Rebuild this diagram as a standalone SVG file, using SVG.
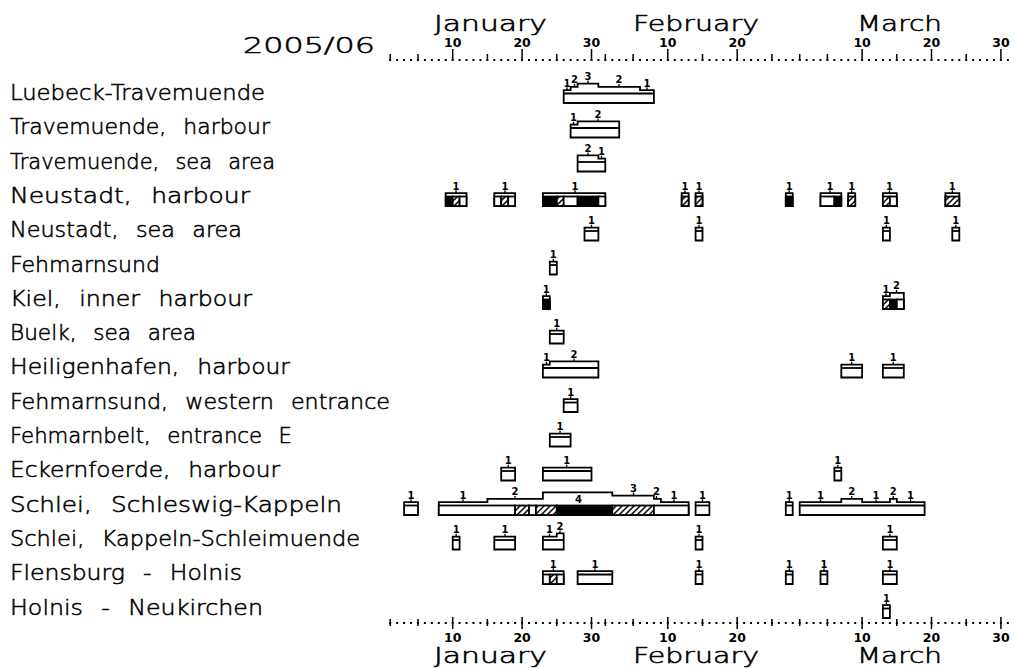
<svg xmlns="http://www.w3.org/2000/svg" width="1015" height="668" viewBox="0 0 1015 668">
<defs>
<pattern id="hp" patternUnits="userSpaceOnUse" width="6" height="6">
<rect width="6" height="6" fill="#fff"/>
<path d="M-1,7 L7,-1 M-1,1 L1,-1 M5,7 L7,5" stroke="#000" stroke-width="1.5"/>
</pattern>
</defs>
<style>
.lb{font-family:"DejaVu Sans",sans-serif;font-size:22px;font-weight:200;word-spacing:10px;fill:#000;stroke:#000;stroke-width:0.55}
.mo{font-family:"DejaVu Sans",sans-serif;font-size:21px;font-weight:200;fill:#000;stroke:#000;stroke-width:0.55}
.ax{font-family:"DejaVu Sans",sans-serif;font-size:12.5px;font-weight:bold;text-anchor:middle;fill:#000}
.n{font-family:"DejaVu Sans",sans-serif;font-size:10px;font-weight:bold;text-anchor:middle;fill:#000}
.o{fill:#fff;stroke:#000;stroke-width:1.8}
.k{fill:#000;stroke:#000;stroke-width:1.8}
.h{fill:url(#hp);stroke:#000;stroke-width:1.8}
.w{fill:#fff;stroke:#000;stroke-width:1.8}
.ln{fill:none;stroke:#000;stroke-width:1.8}
.t{fill:none;stroke:#000;stroke-width:1.3}
.dots{fill:none;stroke:#000;stroke-width:2;stroke-dasharray:2 4.94}
.tk{fill:none;stroke:#000;stroke-width:1.5}
</style>
<rect width="1015" height="668" fill="#fff"/>

<g id="axis-top">
<text class="mo" x="243" y="53" font-size="22" textLength="132" lengthAdjust="spacingAndGlyphs">2005/06</text>
<text class="mo" x="434" y="31" textLength="113" lengthAdjust="spacingAndGlyphs">January</text>
<text class="mo" x="633" y="31" textLength="126" lengthAdjust="spacingAndGlyphs">February</text>
<text class="mo" x="857" y="31" textLength="85" lengthAdjust="spacingAndGlyphs">March</text>
<text class="ax" x="452.7" y="47">10</text><text class="ax" x="522.1" y="47">20</text><text class="ax" x="591.5" y="47">30</text>
<text class="ax" x="667.8" y="47">10</text><text class="ax" x="737.2" y="47">20</text>
<text class="ax" x="862.1" y="47">10</text><text class="ax" x="931.5" y="47">20</text><text class="ax" x="1000.9" y="47">30</text>
<line class="dots" x1="389.2" y1="60" x2="1009" y2="60"/>
<path class="tk" d="M390.2,54V61M418,54V61M487.4,54V61M556.8,54V61M605.3,54V61M633.1,54V61M702.5,54V61M771.9,54V61M799.7,54V61M827.4,54V61M896.8,54V61M966.2,54V61"/>
<path class="tk" d="M452.7,49V61M522.1,49V61M591.5,49V61M667.8,49V61M737.2,49V61M862.1,49V61M931.5,49V61M1000.9,49V61"/>
</g>

<g id="axis-bottom">
<line class="dots" x1="389.2" y1="623" x2="1009" y2="623"/>
<path class="tk" d="M390.2,619V626M418,619V626M487.4,619V626M556.8,619V626M605.3,619V626M633.1,619V626M702.5,619V626M771.9,619V626M799.7,619V626M827.4,619V626M896.8,619V626M966.2,619V626"/>
<path class="tk" d="M452.7,617V629M522.1,617V629M591.5,617V629M667.8,617V629M737.2,617V629M862.1,617V629M931.5,617V629M1000.9,617V629"/>
<text class="ax" x="452.7" y="642">10</text><text class="ax" x="522.1" y="642">20</text><text class="ax" x="591.5" y="642">30</text>
<text class="ax" x="667.8" y="642">10</text><text class="ax" x="737.2" y="642">20</text>
<text class="ax" x="862.1" y="642">10</text><text class="ax" x="931.5" y="642">20</text><text class="ax" x="1000.9" y="642">30</text>
<text class="mo" x="434" y="662.5" textLength="113" lengthAdjust="spacingAndGlyphs">January</text>
<text class="mo" x="633" y="662.5" textLength="126" lengthAdjust="spacingAndGlyphs">February</text>
<text class="mo" x="857" y="662.5" textLength="85" lengthAdjust="spacingAndGlyphs">March</text>
</g>

<g id="row-luebeck-travemuende">
<text class="lb" x="10" y="100" textLength="255" lengthAdjust="spacingAndGlyphs">Luebeck-Travemuende</text>
<path class="o" d="M563.7,103V90.2H570.6V86.9H577.6V83.6H598.4V86.9H640V90.2H653.9V103Z"/>
<path class="ln" d="M563.7,93.5H653.9"/>
<path class="t" d="M567,87.2V90.2M574.5,83.9V86.9M588,80.6V83.6M619,83.9V86.9M647,87.2V90.2"/>
<text class="n" x="567" y="86.7">1</text><text class="n" x="574.5" y="83.4">2</text><text class="n" x="588" y="80.1">3</text><text class="n" x="619" y="83.4">2</text><text class="n" x="647" y="86.7">1</text>
</g>

<g id="row-travemuende-harbour">
<text class="lb" x="10" y="134.3" textLength="260" lengthAdjust="spacingAndGlyphs">Travemuende, harbour</text>
<path class="o" d="M570.6,137.5V124.7H577.6V121.4H619.2V137.5Z"/>
<path class="ln" d="M570.6,128H619.2"/>
<path class="t" d="M573.5,121.7V124.7M598,118.4V121.4"/>
<text class="n" x="573.5" y="121.2">1</text><text class="n" x="598" y="117.9">2</text>
</g>

<g id="row-travemuende-sea">
<text class="lb" x="10" y="168.6" textLength="265" lengthAdjust="spacingAndGlyphs">Travemuende, sea area</text>
<path class="o" d="M577.6,171.5V155.4H598.4V158.7H605.3V171.5Z"/>
<path class="ln" d="M577.6,162H605.3"/>
<path class="t" d="M588,152.4V155.4M601.5,155.7V158.7"/>
<text class="n" x="588" y="151.9">2</text><text class="n" x="601.5" y="155.2">1</text>
</g>

<g id="row-neustadt-harbour">
<text class="lb" x="10" y="202.9" textLength="240" lengthAdjust="spacingAndGlyphs">Neustadt, harbour</text>
<path class="o" d="M445.7,206V193.2H466.5V206Z"/>
<rect class="k" x="445.7" y="196.5" width="7" height="9.5"/><rect class="h" x="452.7" y="196.5" width="6.9" height="9.5"/><rect class="w" x="459.6" y="196.5" width="6.9" height="9.5"/>
<path class="o" d="M494.3,206V193.2H515.1V206Z"/>
<rect class="w" x="494.3" y="196.5" width="6.9" height="9.5"/><rect class="h" x="501.2" y="196.5" width="7" height="9.5"/><rect class="w" x="508.2" y="196.5" width="6.9" height="9.5"/>
<path class="o" d="M542.9,206V193.2H605.3V206Z"/>
<rect class="k" x="542.9" y="196.5" width="13.9" height="9.5"/><rect class="h" x="556.8" y="196.5" width="6.9" height="9.5"/><rect class="w" x="563.7" y="196.5" width="13.9" height="9.5"/><rect class="k" x="577.6" y="196.5" width="20.8" height="9.5"/><rect class="w" x="598.4" y="196.5" width="6.9" height="9.5"/>
<path class="o" d="M681.7,206V193.2H688.6V206Z"/><rect class="h" x="681.7" y="196.5" width="6.9" height="9.5"/>
<path class="o" d="M695.6,206V193.2H702.5V206Z"/><rect class="h" x="695.6" y="196.5" width="6.9" height="9.5"/>
<path class="o" d="M785.8,206V193.2H792.7V206Z"/><rect class="k" x="785.8" y="196.5" width="6.9" height="9.5"/>
<path class="o" d="M820.5,206V193.2H841.3V206Z"/><rect class="w" x="820.5" y="196.5" width="13.9" height="9.5"/><rect class="k" x="834.4" y="196.5" width="6.9" height="9.5"/>
<path class="o" d="M848.2,206V193.2H855.2V206Z"/><rect class="h" x="848.2" y="196.5" width="7" height="9.5"/>
<path class="o" d="M882.9,206V193.2H896.8V206Z"/><rect class="h" x="882.9" y="196.5" width="7" height="9.5"/><rect class="w" x="889.9" y="196.5" width="6.9" height="9.5"/>
<path class="o" d="M945.4,206V193.2H959.3V206Z"/><rect class="h" x="945.4" y="196.5" width="13.9" height="9.5"/>
<path class="t" d="M456,190.2V193.2M505,190.2V193.2M575,190.2V193.2M685,190.2V193.2M699,190.2V193.2M789.2,190.2V193.2M830,190.2V193.2M851.7,190.2V193.2M889.5,190.2V193.2M952.3,190.2V193.2"/>
<text class="n" x="456" y="189.7">1</text><text class="n" x="505" y="189.7">1</text><text class="n" x="575" y="189.7">1</text><text class="n" x="685" y="189.7">1</text><text class="n" x="699" y="189.7">1</text><text class="n" x="789.2" y="189.7">1</text><text class="n" x="830" y="189.7">1</text><text class="n" x="851.7" y="189.7">1</text><text class="n" x="889.5" y="189.7">1</text><text class="n" x="952.3" y="189.7">1</text>
</g>

<g id="row-neustadt-sea">
<text class="lb" x="10" y="237.2" textLength="232" lengthAdjust="spacingAndGlyphs">Neustadt, sea area</text>
<path class="o" d="M584.5,240.5V227.7H598.4V240.5Z"/><path class="ln" d="M584.5,231H598.4"/>
<path class="o" d="M695.6,240.5V227.7H702.5V240.5Z"/><path class="ln" d="M695.6,231H702.5"/>
<path class="o" d="M882.9,240.5V227.7H889.9V240.5Z"/><path class="ln" d="M882.9,231H889.9"/>
<path class="o" d="M952.3,240.5V227.7H959.3V240.5Z"/><path class="ln" d="M952.3,231H959.3"/>
<path class="t" d="M591.5,224.7V227.7M699,224.7V227.7M886.4,224.7V227.7M955.8,224.7V227.7"/>
<text class="n" x="591.5" y="224.2">1</text><text class="n" x="699" y="224.2">1</text><text class="n" x="886.4" y="224.2">1</text><text class="n" x="955.8" y="224.2">1</text>
</g>

<g id="row-fehmarnsund">
<text class="lb" x="10" y="271.5" textLength="150" lengthAdjust="spacingAndGlyphs">Fehmarnsund</text>
<path class="o" d="M549.8,274.5V261.7H556.8V274.5Z"/><path class="ln" d="M549.8,265H556.8"/>
<path class="t" d="M553.3,258.7V261.7"/><text class="n" x="553.3" y="258.2">1</text>
</g>

<g id="row-kiel">
<text class="lb" x="10" y="305.8" textLength="242" lengthAdjust="spacingAndGlyphs">Kiel, inner harbour</text>
<path class="o" d="M542.9,309V296.2H549.8V309Z"/><rect class="k" x="542.9" y="299.5" width="6.9" height="9.5"/>
<path class="o" d="M882.9,309V296.2H889.9V292.9H903.8V309Z"/>
<rect class="h" x="882.9" y="299.5" width="7" height="9.5"/><rect class="k" x="889.9" y="299.5" width="6.9" height="9.5"/><rect class="w" x="896.8" y="299.5" width="7" height="9.5"/>
<path class="t" d="M546.3,293.2V296.2M886,293.2V296.2M896.5,289.9V292.9"/>
<text class="n" x="546.3" y="292.7">1</text><text class="n" x="886" y="292.7">1</text><text class="n" x="896.5" y="289.4">2</text>
</g>

<g id="row-buelk">
<text class="lb" x="10" y="340.1" textLength="186" lengthAdjust="spacingAndGlyphs">Buelk, sea area</text>
<path class="o" d="M549.8,343.5V330.7H563.7V343.5Z"/><path class="ln" d="M549.8,334H563.7"/>
<path class="t" d="M556.8,327.7V330.7"/><text class="n" x="556.8" y="327.2">1</text>
</g>

<g id="row-heiligenhafen">
<text class="lb" x="10" y="374.4" textLength="280" lengthAdjust="spacingAndGlyphs">Heiligenhafen, harbour</text>
<path class="o" d="M542.9,377.5V364.7H549.8V361.4H598.4V377.5Z"/><path class="ln" d="M542.9,368H598.4"/>
<path class="o" d="M841.3,377.5V364.7H862.1V377.5Z"/><path class="ln" d="M841.3,368H862.1"/>
<path class="o" d="M882.9,377.5V364.7H903.8V377.5Z"/><path class="ln" d="M882.9,368H903.8"/>
<path class="t" d="M546.5,361.7V364.7M574,358.4V361.4M851.7,361.7V364.7M893.3,361.7V364.7"/>
<text class="n" x="546.5" y="361.2">1</text><text class="n" x="574" y="357.9">2</text><text class="n" x="851.7" y="361.2">1</text><text class="n" x="893.3" y="361.2">1</text>
</g>

<g id="row-fehmarnsund-western">
<text class="lb" x="10" y="408.7" textLength="380" lengthAdjust="spacingAndGlyphs">Fehmarnsund, western entrance</text>
<path class="o" d="M563.7,412V399.2H577.6V412Z"/><path class="ln" d="M563.7,402.5H577.6"/>
<path class="t" d="M570.7,396.2V399.2"/><text class="n" x="570.7" y="395.7">1</text>
</g>

<g id="row-fehmarnbelt">
<text class="lb" x="10" y="443" textLength="282" lengthAdjust="spacingAndGlyphs">Fehmarnbelt, entrance E</text>
<path class="o" d="M549.8,446.5V433.7H570.6V446.5Z"/><path class="ln" d="M549.8,437H570.6"/>
<path class="t" d="M560,430.7V433.7"/><text class="n" x="560" y="430.2">1</text>
</g>

<g id="row-eckernfoerde">
<text class="lb" x="10" y="477.3" textLength="270" lengthAdjust="spacingAndGlyphs">Eckernfoerde, harbour</text>
<path class="o" d="M501.2,480.5V467.7H515.1V480.5Z"/><path class="ln" d="M501.2,471H515.1"/>
<path class="o" d="M542.9,480.5V467.7H591.5V480.5Z"/><path class="ln" d="M542.9,471H591.5"/>
<path class="o" d="M834.4,480.5V467.7H841.3V480.5Z"/><path class="ln" d="M834.4,471H841.3"/>
<path class="t" d="M508.2,464.7V467.7M566.7,464.7V467.7M837.8,464.7V467.7"/>
<text class="n" x="508.2" y="464.2">1</text><text class="n" x="566.7" y="464.2">1</text><text class="n" x="837.8" y="464.2">1</text>
</g>

<g id="row-schlei-schleswig-kappeln">
<text class="lb" x="10" y="511.6" textLength="332" lengthAdjust="spacingAndGlyphs">Schlei, Schleswig-Kappeln</text>
<path class="o" d="M404.1,515V502.2H418V515Z"/><path class="ln" d="M404.1,505.5H418"/>
<path class="o" d="M438.8,515V502.2H487.4V498.9H542.9V492.3H612.3V495.6H653.9V498.9H660.9V502.2H688.6V515Z"/>
<rect class="w" x="438.8" y="505.5" width="76.3" height="9.5"/><rect class="h" x="515.1" y="505.5" width="13.9" height="9.5"/><rect class="w" x="529" y="505.5" width="6.9" height="9.5"/><rect class="h" x="535.9" y="505.5" width="20.9" height="9.5"/><rect class="k" x="556.8" y="505.5" width="55.5" height="9.5"/><rect class="h" x="612.3" y="505.5" width="41.6" height="9.5"/><rect class="w" x="653.9" y="505.5" width="34.7" height="9.5"/>
<path class="o" d="M695.6,515V502.2H709.4V515Z"/><path class="ln" d="M695.6,505.5H709.4"/>
<path class="o" d="M785.8,515V502.2H792.7V515Z"/><path class="ln" d="M785.8,505.5H792.7"/>
<path class="o" d="M799.7,515V502.2H841.3V498.9H862.1V502.2H889.9V498.9H896.8V502.2H924.6V515Z"/><path class="ln" d="M799.7,505.5H924.6"/>
<path class="t" d="M411,499.2V502.2M463,499.2V502.2M515,495.9V498.9M633.5,492.6V495.6M656.5,495.9V498.9M674,499.2V502.2M702.5,499.2V502.2M789.3,499.2V502.2M820.5,499.2V502.2M851.7,495.9V498.9M876,499.2V502.2M893.3,495.9V498.9M910.5,499.2V502.2"/>
<text class="n" x="411" y="498.7">1</text><text class="n" x="463" y="498.7">1</text><text class="n" x="515" y="495.4">2</text><text class="n" x="578.5" y="502.5">4</text><text class="n" x="633.5" y="492.1">3</text><text class="n" x="656.5" y="495.4">2</text><text class="n" x="674" y="498.7">1</text>
<text class="n" x="702.5" y="498.7">1</text><text class="n" x="789.3" y="498.7">1</text><text class="n" x="820.5" y="498.7">1</text><text class="n" x="851.7" y="495.4">2</text><text class="n" x="876" y="498.7">1</text><text class="n" x="893.3" y="495.4">2</text><text class="n" x="910.5" y="498.7">1</text>
</g>

<g id="row-schlei-kappeln-schleimuende">
<text class="lb" x="10" y="545.9" textLength="350" lengthAdjust="spacingAndGlyphs">Schlei, Kappeln-Schleimuende</text>
<path class="o" d="M452.7,549.5V536.7H459.6V549.5Z"/><path class="ln" d="M452.7,540H459.6"/>
<path class="o" d="M494.3,549.5V536.7H515.1V549.5Z"/><path class="ln" d="M494.3,540H515.1"/>
<path class="o" d="M542.9,549.5V536.7H556.8V533.4H563.7V549.5Z"/><path class="ln" d="M542.9,540H563.7"/>
<path class="o" d="M695.6,549.5V536.7H702.5V549.5Z"/><path class="ln" d="M695.6,540H702.5"/>
<path class="o" d="M882.9,549.5V536.7H896.8V549.5Z"/><path class="ln" d="M882.9,540H896.8"/>
<path class="t" d="M456.2,533.7V536.7M505,533.7V536.7M549.5,533.7V536.7M560,530.4V533.4M699,533.7V536.7M889.9,533.7V536.7"/>
<text class="n" x="456.2" y="533.2">1</text><text class="n" x="505" y="533.2">1</text><text class="n" x="549.5" y="533.2">1</text><text class="n" x="560" y="529.9">2</text><text class="n" x="699" y="533.2">1</text><text class="n" x="889.9" y="533.2">1</text>
</g>

<g id="row-flensburg-holnis">
<text class="lb" x="10" y="580.2" textLength="232" lengthAdjust="spacingAndGlyphs">Flensburg - Holnis</text>
<path class="o" d="M542.9,584V571.2H563.7V584Z"/>
<rect class="w" x="542.9" y="574.5" width="6.9" height="9.5"/><rect class="h" x="549.8" y="574.5" width="7" height="9.5"/><rect class="w" x="556.8" y="574.5" width="6.9" height="9.5"/>
<path class="o" d="M577.6,584V571.2H612.3V584Z"/><path class="ln" d="M577.6,574.5H612.3"/>
<path class="o" d="M695.6,584V571.2H702.5V584Z"/><path class="ln" d="M695.6,574.5H702.5"/>
<path class="o" d="M785.8,584V571.2H792.7V584Z"/><path class="ln" d="M785.8,574.5H792.7"/>
<path class="o" d="M820.5,584V571.2H827.4V584Z"/><path class="ln" d="M820.5,574.5H827.4"/>
<path class="o" d="M882.9,584V571.2H896.8V584Z"/><path class="ln" d="M882.9,574.5H896.8"/>
<path class="t" d="M553.3,568.2V571.2M595,568.2V571.2M699,568.2V571.2M789.3,568.2V571.2M824,568.2V571.2M889.9,568.2V571.2"/>
<text class="n" x="553.3" y="567.7">1</text><text class="n" x="595" y="567.7">1</text><text class="n" x="699" y="567.7">1</text><text class="n" x="789.3" y="567.7">1</text><text class="n" x="824" y="567.7">1</text><text class="n" x="889.9" y="567.7">1</text>
</g>

<g id="row-holnis-neukirchen">
<text class="lb" x="10" y="614.5" textLength="253" lengthAdjust="spacingAndGlyphs">Holnis - Neukirchen</text>
<path class="o" d="M882.9,618V605.2H889.9V618Z"/><path class="ln" d="M882.9,608.5H889.9"/>
<path class="t" d="M886.4,602.2V605.2"/><text class="n" x="886.4" y="601.7">1</text>
</g>
</svg>
